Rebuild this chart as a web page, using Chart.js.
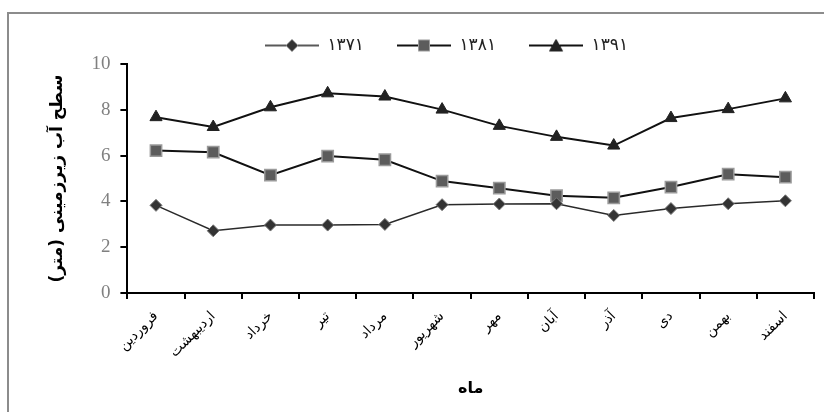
<!DOCTYPE html>
<html>
<head>
<meta charset="utf-8">
<script src="https://cdn.jsdelivr.net/npm/chart.js@4/dist/chart.umd.min.js"></script>
<style>
  body { margin: 0; background: #fff; }
  #wrap { width: 824px; height: 412px; position: relative; }
</style>
</head>
<body>
<div id="wrap"><canvas id="levelChart" width="824" height="412"></canvas></div>
<script>
// months (x axis)
const months = ['فروردین', 'اردیبهشت', 'خرداد', 'تیر', 'مرداد', 'شهریور', 'مهر', 'آبان', 'آذر', 'دی', 'بهمن', 'اسفند'];
const yearLabels = ['۱۳۷۱', '۱۳۸۱', '۱۳۹۱'];

// groundwater level (m)
const level1371 = [3.83, 2.72, 2.97, 2.97, 3.0, 3.86, 3.89, 3.9, 3.39, 3.69, 3.9, 4.03];
const level1381 = [6.22, 6.15, 5.15, 5.98, 5.82, 4.89, 4.58, 4.25, 4.16, 4.63, 5.19, 5.06];
const level1391 = [7.68, 7.25, 8.11, 8.72, 8.58, 8.01, 7.3, 6.82, 6.44, 7.64, 8.03, 8.5];

const yTicks = [0, 2, 4, 6, 8, 10];

const persianFont = "'DejaVu Sans', sans-serif";

// small line + marker pictures for the legend
function legendIcon(shape, fill, stroke, lineColor, lineWidth) {
    const c = document.createElement('canvas');
    c.width = 54; c.height = 16;
    const g = c.getContext('2d');
    g.strokeStyle = lineColor;
    g.lineWidth = lineWidth;
    g.beginPath(); g.moveTo(0, 8); g.lineTo(54, 8); g.stroke();
    g.fillStyle = fill;
    g.strokeStyle = stroke;
    g.lineWidth = 1;
    g.beginPath();
    if (shape === 'diamond') {
        g.moveTo(27, 2); g.lineTo(33, 8); g.lineTo(27, 14); g.lineTo(21, 8);
    } else if (shape === 'square') {
        g.rect(21.5, 2.5, 11, 11);
    } else {
        g.moveTo(27, 2); g.lineTo(33.5, 13.5); g.lineTo(20.5, 13.5);
    }
    g.closePath(); g.fill(); g.stroke();
    return c;
}

const icons = [
    legendIcon('diamond', '#333', '#777', '#222', 1.5),
    legendIcon('square', '#5c5c5c', '#9a9a9a', '#111', 2),
    legendIcon('triangle', '#222', '#222', '#111', 2)
];

// grey frame round the chart
const framePlugin = {
    id: 'frame',
    beforeDraw(chart) {
        const ctx = chart.ctx;
        ctx.save();
        ctx.strokeStyle = '#8c8c8c';
        ctx.lineWidth = 2;
        ctx.strokeRect(8, 13, 1000, 600);
        ctx.restore();
    }
};

// legend sits a bit right of the canvas centre in the original
const legendShift = {
    id: 'legendShift',
    afterLayout(chart) {
        chart.legend.left += 21;
        chart.legend.right += 21;
    }
};

const ctx = document.getElementById('levelChart').getContext('2d');
new Chart(ctx, {
    type: 'line',
    data: {
        labels: months,
        datasets: [{
            label: yearLabels[0],
            data: level1371,
            borderColor: '#2a2a2a',
            borderWidth: 1.5,
            pointStyle: 'rectRot',
            pointRadius: 6,
            pointBackgroundColor: '#333',
            pointBorderColor: '#777',
            pointBorderWidth: 1
        }, {
            label: yearLabels[1],
            data: level1381,
            borderColor: '#111',
            borderWidth: 2,
            pointStyle: 'rect',
            pointRadius: 8,
            pointBackgroundColor: '#5c5c5c',
            pointBorderColor: '#9a9a9a',
            pointBorderWidth: 1.5
        }, {
            label: yearLabels[2],
            data: level1391,
            borderColor: '#111',
            borderWidth: 2,
            pointStyle: 'triangle',
            pointRadius: 7,
            pointBackgroundColor: '#222',
            pointBorderColor: '#222',
            pointBorderWidth: 1
        }]
    },
    options: {
        responsive: false,
        animation: false,
        layout: { padding: { left: 37, right: 10, top: 4, bottom: 14 } },
        plugins: {
            tooltip: { enabled: false },
            legend: {
                position: 'top',
                labels: {
                    usePointStyle: true,
                    pointStyleWidth: 54,
                    padding: 33,
                    color: '#222',
                    font: { family: persianFont, size: 17 },
                    generateLabels(chart) {
                        const items = Chart.defaults.plugins.legend.labels.generateLabels(chart);
                        items.forEach((it, i) => { it.pointStyle = icons[i]; });
                        return items;
                    }
                }
            }
        },
        scales: {
            x: {
                offset: true,
                grid: { offset: true, drawOnChartArea: false, drawTicks: true, tickLength: 6, color: '#000', lineWidth: 2 },
                border: { color: '#000', width: 2 },
                ticks: {
                    minRotation: 45, maxRotation: 45,
                    padding: 9,
                    color: '#000',
                    font: { family: persianFont, size: 14 }
                },
                title: {
                    display: true,
                    text: 'ماه',
                    color: '#000',
                    font: { family: persianFont, size: 16, weight: 'bold' },
                    padding: { top: 9, bottom: 0 }
                }
            },
            y: {
                min: 0, max: 10,
                afterBuildTicks(scale) { scale.ticks = yTicks.map(v => ({ value: v })); },
                grid: { drawOnChartArea: false, drawTicks: true, tickLength: 7, color: '#000', lineWidth: 2 },
                border: { color: '#000', width: 2 },
                ticks: {
                    padding: 10,
                    color: '#808080',
                    font: { family: "'Liberation Serif', serif", size: 19 }
                },
                title: {
                    display: true,
                    text: 'سطح آب زیرزمینی (متر)',
                    color: '#000',
                    font: { family: persianFont, size: 17, weight: 'bold' },
                    padding: { top: 10, bottom: 14 }
                }
            }
        }
    },
    plugins: [framePlugin, legendShift]
});
</script>
</body>
</html>
